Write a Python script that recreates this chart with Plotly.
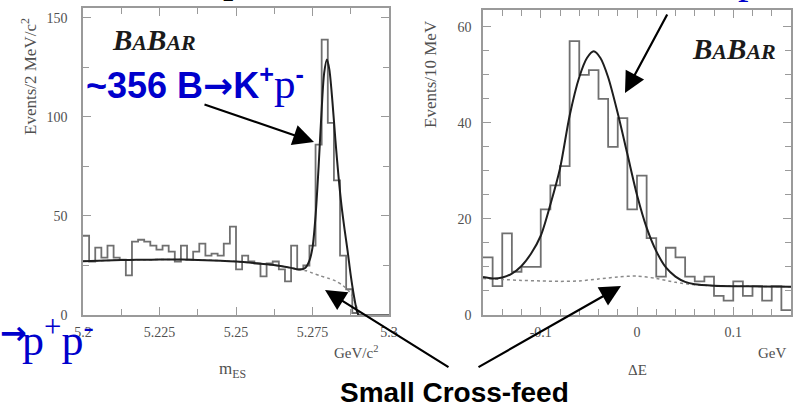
import plotly.graph_objects as go

W, H = 794, 407

# ---------------- data ----------------
# left panel: m_ES histogram, 2 MeV bins from 5.200 to 5.300 GeV/c^2
mes_start = 5.200
mes_binw = 0.002
mes_counts = [40, 27, 34, 29, 35, 29, 28, 20, 37, 38,
              37, 35, 33, 35, 32, 27, 35, 28, 32, 36,
              30, 31, 30, 36, 44.6, 23, 30, 27, 26, 19.5,
              26, 27, 23, 17, 35, 23, 25, 35, 86, 139,
              97, 68, 30, 13, 1, 0, 0, 0, 0, 0]
# total fit (solid)
mes_fit_x = [5.200, 5.205, 5.210, 5.215, 5.220, 5.225, 5.230, 5.235, 5.240, 5.245,
             5.250, 5.255, 5.260, 5.265, 5.268, 5.2705, 5.2725, 5.2740, 5.2750, 5.2760,
             5.2770, 5.2780, 5.2788, 5.2797, 5.2805, 5.2815, 5.2825, 5.2835, 5.2845, 5.2855,
             5.2865, 5.2875, 5.2885, 5.2895, 5.2900]
mes_fit_y = [27.2, 27.4, 27.6, 27.8, 27.9, 28.0, 28.0, 27.9, 27.7, 27.4,
             27.0, 26.4, 25.6, 24.6, 23.8, 23.0, 23.6, 27.5, 34, 50,
             75, 104, 122, 129, 124, 108, 88, 70, 55, 43,
             32, 20, 10, 2, 0]
# background + cross-feed (dashed)
mes_bkg_x = [5.200, 5.210, 5.220, 5.230, 5.240, 5.250, 5.260, 5.265, 5.2705, 5.273,
             5.275, 5.2775, 5.280, 5.2825, 5.285, 5.2865, 5.288, 5.289, 5.2898, 5.2900]
mes_bkg_y = [27.2, 27.6, 27.9, 28.0, 27.7, 27.0, 25.6, 24.6, 23.0, 22.3,
             21.2, 19.8, 18.6, 17.2, 14.8, 12.8, 9.5, 6.0, 2.0, 0.0]
mes_tickvals = [5.2, 5.225, 5.25, 5.275, 5.3]
mes_ticktext = ["5.2", "5.225", "5.25", "5.275", "5.3"]
mes_ytickvals = [0, 50, 100, 150]

# right panel: Delta E histogram, 10 MeV bins from -0.16 to 0.16 GeV
de_start = -0.16
de_binw = 0.01
de_counts = [12, 6, 17, 9, 10, 10, 22, 27, 31, 57,
             50, 51, 45, 35, 41, 22, 29, 16, 8, 14,
             12, 8, 7, 8, 4, 3, 7, 4, 6, 3, 6, 1]
de_fit_x = [-0.160, -0.150, -0.140, -0.130, -0.120, -0.110, -0.100, -0.090, -0.080, -0.070,
            -0.060, -0.052, -0.045, -0.038, -0.030, -0.020, -0.010, 0.000, 0.010, 0.020,
            0.030, 0.040, 0.050, 0.060, 0.080, 0.100, 0.130, 0.160]
de_fit_y = [7.9, 7.6, 7.8, 8.6, 10.2, 12.8, 16.5, 23.0, 30.5, 41.5,
            49.5, 53.5, 54.9, 53.5, 49.5, 42.0, 33.5, 25.0, 18.2, 13.3,
            9.9, 8.0, 6.9, 6.4, 6.1, 6.0, 5.95, 5.9]
de_bkg_x = [-0.160, -0.140, -0.120, -0.100, -0.080, -0.060, -0.040, -0.020, 0.000, 0.020,
            0.040, 0.060, 0.080, 0.100, 0.130, 0.160]
de_bkg_y = [7.6, 7.4, 7.2, 7.1, 7.0, 7.1, 7.5, 7.9, 8.1, 7.6,
            6.8, 6.3, 6.1, 6.0, 5.95, 5.9]
de_tickvals = [-0.1, 0, 0.1]
de_ticktext = ["-0.1", "0", "0.1"]
de_ytickvals = [0, 20, 40, 60]

# ---------------- helpers ----------------
def edges(start, width, n):
    return [round(start + width * i, 6) for i in range(n + 1)]

def px(x):
    return x / W

def py(y):
    return 1 - y / H

HIST_COL = "#707070"
FIT_COL = "#1e1e1e"
BKG_COL = "#8a8a8a"
AX_COL = "#9a9a9a"
TXT_COL = "#505050"
BLUE = "#0000cc"
SERIF = "Liberation Serif"
SANS = "Liberation Sans"

fig = go.Figure()

me = edges(mes_start, mes_binw, len(mes_counts))
fig.add_trace(go.Scatter(x=me, y=mes_counts + [mes_counts[-1]], mode="lines",
                         line=dict(shape="hv", color=HIST_COL, width=1.8),
                         xaxis="x", yaxis="y", hoverinfo="skip"))
fig.add_trace(go.Scatter(x=mes_bkg_x, y=mes_bkg_y, mode="lines",
                         line=dict(shape="spline", smoothing=0.8, color=BKG_COL, width=1.5, dash="dot"),
                         xaxis="x", yaxis="y", hoverinfo="skip"))
fig.add_trace(go.Scatter(x=mes_fit_x, y=mes_fit_y, mode="lines",
                         line=dict(shape="spline", smoothing=0.8, color=FIT_COL, width=2),
                         xaxis="x", yaxis="y", hoverinfo="skip"))

de = edges(de_start, de_binw, len(de_counts))
fig.add_trace(go.Scatter(x=de, y=de_counts + [de_counts[-1]], mode="lines",
                         line=dict(shape="hv", color=HIST_COL, width=1.8),
                         xaxis="x2", yaxis="y2", hoverinfo="skip"))
fig.add_trace(go.Scatter(x=de_bkg_x, y=de_bkg_y, mode="lines",
                         line=dict(shape="spline", smoothing=0.8, color=BKG_COL, width=1.5, dash="dot"),
                         xaxis="x2", yaxis="y2", hoverinfo="skip"))
fig.add_trace(go.Scatter(x=de_fit_x, y=de_fit_y, mode="lines",
                         line=dict(shape="spline", smoothing=0.8, color=FIT_COL, width=2),
                         xaxis="x2", yaxis="y2", hoverinfo="skip"))

tickfont = dict(family=SERIF, size=14, color=TXT_COL)
common = dict(showline=True, linecolor=AX_COL, linewidth=1.5, mirror="allticks",
              ticks="inside", ticklen=8, tickcolor=AX_COL, tickwidth=1,
              showgrid=False, zeroline=False, tickfont=tickfont, fixedrange=True,
              automargin=False)

fig.update_layout(
    template="none",
    width=W, height=H,
    margin=dict(l=0, r=0, t=0, b=0, pad=0),
    paper_bgcolor="white", plot_bgcolor="white",
    showlegend=False,
    xaxis=dict(domain=[px(83), px(389)], range=[5.2, 5.3], anchor="y",
               tickmode="array", tickvals=mes_tickvals, ticktext=mes_ticktext,
               ticklabelstandoff=3,
               minor=dict(tickmode="linear", tick0=5.2, dtick=0.0125, ticks="inside",
                          ticklen=6, tickcolor=AX_COL), **common),
    yaxis=dict(domain=[py(315), py(8)], range=[0, 155], anchor="x",
               tickmode="array", tickvals=mes_ytickvals, ticklabelstandoff=11,
               minor=dict(tickmode="linear", tick0=0, dtick=25, ticks="inside",
                          ticklen=6, tickcolor=AX_COL), **common),
    xaxis2=dict(domain=[px(483), px(791)], range=[-0.16, 0.16], anchor="y2",
                tickmode="array", tickvals=de_tickvals, ticktext=de_ticktext,
                ticklabelstandoff=3,
                minor=dict(tickmode="linear", tick0=0, dtick=0.02, ticks="inside",
                           ticklen=6, tickcolor=AX_COL), **common),
    yaxis2=dict(domain=[py(315), py(10)], range=[0, 63.5], anchor="x2",
                tickmode="array", tickvals=de_ytickvals, ticklabelstandoff=7,
                minor=dict(tickmode="linear", tick0=0, dtick=5, ticks="inside",
                           ticklen=6, tickcolor=AX_COL), **common),
)

ann = []
def text(t, x, y, size, color=TXT_COL, family=SERIF, xanchor="center", yanchor="middle", angle=0):
    ann.append(dict(text=t, x=px(x), y=py(y), xref="paper", yref="paper", showarrow=False,
                    xanchor=xanchor, yanchor=yanchor, textangle=angle,
                    font=dict(family=family, size=size, color=color)))

def arrow(tail, tip):
    ann.append(dict(text="", x=px(tip[0]), y=py(tip[1]), xref="paper", yref="paper",
                    ax=tail[0] - tip[0], ay=tail[1] - tip[1], showarrow=True,
                    arrowhead=2, arrowsize=1.9, arrowwidth=2.2, arrowcolor="black"))

# axis titles and units
text("Events/2 MeV/c<sup>2</sup>", 29, 77, 17, angle=-90)
text("Events/10 MeV", 430, 74, 17, angle=-90)
text("m<sub>ES</sub>", 233, 370, 17)
text("GeV/c<sup>2</sup>", 356, 352, 15)
text("\u0394E", 637, 370, 15)
text("GeV", 772, 353, 15)

# BaBar logos
babar = ('<b><i>B<span style="font-size:22px">A</span>B'
         '<span style="font-size:22px">AR</span></i></b>')
text(babar, 154, 40, 29, color="#1a1a1a")
text(babar, 734, 49, 29, color="#1a1a1a")

# slide annotations
ARW = '<span style="font-family:DejaVu Sans">\u2192</span>'
text('<b>~356 B' + ARW + 'K<sup>+</sup></b><span style="font-family:Liberation Serif;font-size:43px">p</span><b><sup>-</sup></b>',
     84, 84, 36, color=BLUE, family=SANS, xanchor="left")
text('<b>\u2192</b>', -2, 333, 32, color=BLUE, family="DejaVu Sans", xanchor="left")
text('p<sup>+</sup>p<sup>-</sup>', 96, 337, 44, color=BLUE, family=SERIF, xanchor="right")
text("<b>Small Cross-feed</b>", 455, 392, 28, color="black", family=SANS)
# partially visible text at the top edge
text("p", 221, -22, 42, color="black", family=SERIF, xanchor="left")
text("<b>300</b>", 588, -12, 36, color=BLUE, family=SANS)
text("p", 736, -21, 42, color=BLUE, family=SERIF, xanchor="left")

# arrows
arrow((203, 104), (314, 142))
arrow((668, 13), (625, 93))
arrow((450, 368), (325, 290))
arrow((477, 368), (621, 286))

fig.update_layout(annotations=ann)
fig.write_html("out.html", config={"displayModeBar": False},
               post_script="document.body.style.margin='0';document.body.style.overflow='hidden';")
